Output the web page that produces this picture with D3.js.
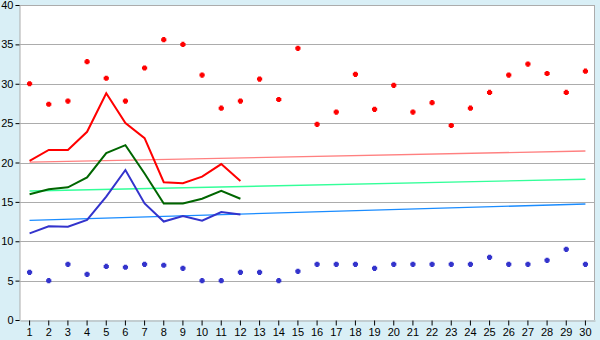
<!DOCTYPE html>
<html>
<head>
<meta charset="utf-8">
<script src="https://cdn.jsdelivr.net/npm/d3@7"></script>
<style>
  body { margin: 0; background: #d9eff6; }
  svg { display: block; font-family: "DejaVu Sans", Verdana, sans-serif; }
</style>
</head>
<body>
<div id="chart"></div>
<script>
// categories 1..30
const days = d3.range(1, 31);

// scatter points
const redPoints = [30.0, 27.4, 27.8, 32.8, 30.7, 27.8, 32.0, 35.6, 35.0, 31.1,
  26.9, 27.8, 30.6, 28.0, 34.5, 24.85, 26.4, 31.2, 26.75, 29.8,
  26.4, 27.6, 24.7, 26.9, 28.9, 31.1, 32.5, 31.3, 28.9, 31.6];
const bluePoints = [6.05, 5.0, 7.07, 5.8, 6.8, 6.7, 7.07, 6.95, 6.56, 5.0,
  5.0, 6.05, 6.05, 5.0, 6.18, 7.07, 7.07, 7.07, 6.56, 7.07,
  7.07, 7.07, 7.07, 7.07, 7.96, 7.07, 7.07, 7.58, 8.97, 7.07];

// lines (first 12 days)
const redLine = [20.2, 21.6, 21.6, 23.9, 28.8, 25.0, 23.1, 17.5, 17.36, 18.2, 19.8, 17.65];
const greenLine = [15.96, 16.6, 16.85, 18.1, 21.2, 22.2, 18.6, 14.8, 14.8, 15.4, 16.4, 15.4];
const blueLine = [11.0, 11.9, 11.85, 12.7, 15.66, 19.05, 14.8, 12.5, 13.2, 12.6, 13.7, 13.4];

// trend lines: value at day 1 and at day 30
const trendRed = [20.05, 21.46];
const trendGreen = [16.38, 17.87];
const trendBlue = [12.66, 14.73];

const yTicks = d3.range(0, 41, 5);

const width = 600;
const height = 340;
const marginTop = 5;
const marginRight = 5;
const marginBottom = 20;
const marginLeft = 20;

const svg = d3.select("#chart").append("svg")
    .attr("width", width)
    .attr("height", height)
    .attr("viewBox", [0, 0, width, height]);

svg.append("rect")
    .attr("width", width).attr("height", height)
    .attr("fill", "#d9eff6");

svg.append("rect")
    .attr("x", marginLeft).attr("y", marginTop)
    .attr("width", width - marginLeft - marginRight)
    .attr("height", height - marginTop - marginBottom)
    .attr("fill", "#fff");

const x = d3.scaleBand()
    .domain(days)
    .range([marginLeft, width - marginRight]);

const y = d3.scaleLinear()
    .domain([0, 40])
    .range([height - marginBottom, marginTop]);

const cx = d => x(d) + x.bandwidth() / 2;

// gridlines
svg.append("g")
    .selectAll("line")
    .data(yTicks.filter(d => d > 0))
    .join("line")
    .attr("x1", marginLeft).attr("x2", width - marginRight)
    .attr("y1", d => Math.round(y(d)) + 0.5).attr("y2", d => Math.round(y(d)) + 0.5)
    .attr("stroke", "#acacac");

// plot border (right side)
svg.append("line")
    .attr("x1", width - marginRight - 0.5).attr("x2", width - marginRight - 0.5)
    .attr("y1", marginTop).attr("y2", height - marginBottom)
    .attr("stroke", "#acacac");

// axes
svg.append("g")
    .attr("transform", `translate(${marginLeft - 0.5},0)`)
    .call(d3.axisLeft(y).tickValues(yTicks).tickSize(4).tickPadding(2))
    .call(g => g.select(".domain").attr("stroke", "#acacac"))
    .call(g => g.selectAll(".tick line").attr("stroke", "#000"))
    .call(g => g.selectAll("text").attr("font-size", 11).attr("fill", "#000"));

svg.append("g")
    .attr("transform", `translate(0,${height - marginBottom + 0.5})`)
    .call(d3.axisBottom(x).tickSize(5).tickPadding(3).tickSizeOuter(0))
    .call(g => g.select(".domain").attr("stroke", "#acacac"))
    .call(g => g.selectAll(".tick line").attr("stroke", "#000"))
    .call(g => g.selectAll("text").attr("font-size", 11).attr("fill", "#000"));

// trend lines
const trends = [
  { v: trendRed, color: "#ff8080" },
  { v: trendGreen, color: "#33ff99" },
  { v: trendBlue, color: "#1a8cff" }
];
svg.append("g")
    .selectAll("line")
    .data(trends)
    .join("line")
    .attr("x1", cx(days[0])).attr("x2", cx(days[days.length - 1]))
    .attr("y1", d => y(d.v[0])).attr("y2", d => y(d.v[1]))
    .attr("stroke", d => d.color)
    .attr("stroke-width", 1.3);

// series lines
const line = d3.line()
    .x((d, i) => cx(days[i]))
    .y(d => y(d));

const lines = [
  { v: redLine, color: "#ff0000" },
  { v: greenLine, color: "#006600" },
  { v: blueLine, color: "#3333cc" }
];
svg.append("g")
    .selectAll("path")
    .data(lines)
    .join("path")
    .attr("d", d => line(d.v))
    .attr("fill", "none")
    .attr("stroke", d => d.color)
    .attr("stroke-width", 2);

// scatter markers: fat plus (5x5 with corners cut)
const fatPlus = {
  draw(ctx, size) {
    const a = 1.5, b = 2.6;
    ctx.moveTo(-a, -b); ctx.lineTo(a, -b); ctx.lineTo(a, -a); ctx.lineTo(b, -a);
    ctx.lineTo(b, a); ctx.lineTo(a, a); ctx.lineTo(a, b); ctx.lineTo(-a, b);
    ctx.lineTo(-a, a); ctx.lineTo(-b, a); ctx.lineTo(-b, -a); ctx.lineTo(-a, -a);
    ctx.closePath();
  }
};
const marker = d3.symbol().type(fatPlus);
const scatter = [
  { v: redPoints, color: "#ff0000" },
  { v: bluePoints, color: "#3333cc" }
];
svg.append("g")
    .selectAll("g")
    .data(scatter)
    .join("g")
    .attr("fill", d => d.color)
    .selectAll("path")
    .data(d => d.v)
    .join("path")
    .attr("transform", (d, i) => `translate(${cx(days[i])},${y(d)})`)
    .attr("d", marker);
</script>
</body>
</html>
